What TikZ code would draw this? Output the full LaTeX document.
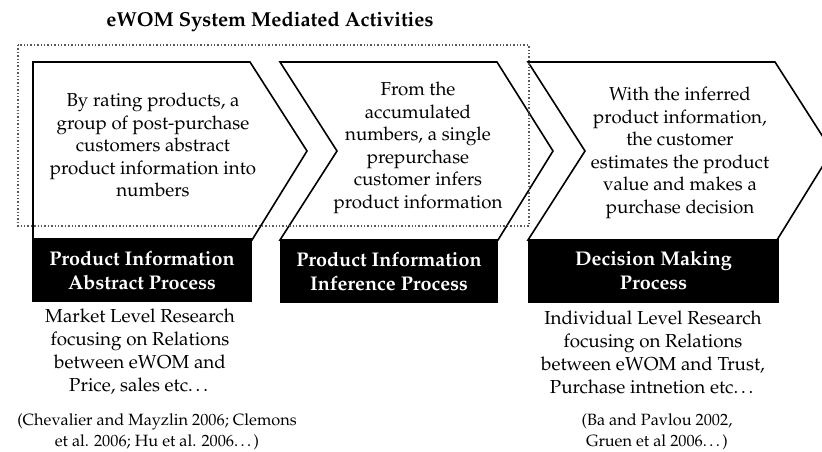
\documentclass[tikz,border=0pt]{standalone}
\usepackage[T1]{fontenc}
\usepackage{mathpazo}
\usetikzlibrary{positioning}

\begin{document}
\begin{tikzpicture}[x=1pt, y=-1pt,
		chev/.style={draw, line width=1.6pt, line join=miter, fill=white},
		steptext/.style={align=center, inner sep=0pt, font=\fontsize{18.7}{22.5}\selectfont},
		headbox/.style={fill=black, text=white, align=center, inner sep=0pt, minimum height=64pt, font=\fontsize{19.8}{24}\selectfont\bfseries},
		notetext/.style={align=center, inner sep=0pt, font=\fontsize{18.8}{23}\selectfont},
		citetext/.style={align=center, inner sep=0pt, font=\fontsize{16.3}{21}\selectfont}]
			\clip (0,0) rectangle (822,452);
			% Title
			\node[font=\fontsize{20.2}{22}\selectfont\bfseries] (title) at (270,22) {eWOM System Mediated Activities};
			% Chevrons
			\draw[chev] (33,240) -- (33,62) -- (250,62) -- (307,151) -- (252,240) -- cycle;
			\draw[chev] (280,240) -- (337,151) -- (280,62) -- (497,62) -- (553,151) -- (498,240) -- cycle;
			\draw[chev] (528,240) -- (585,151) -- (528,62) -- (775,62) -- (832,151) -- (777,240) -- cycle;
			\draw[line width=2.6pt] (528,62) -- (775,62);
			\node[steptext] (step1) at (153,145) {By rating products, a\\group of post-purchase\\customers abstract\\product information into\\numbers};
			\node[steptext] (step2) at (418,148) {From the\\accumulated\\numbers, a single\\prepurchase\\customer infers\\product information};
			\node[steptext] (step3) at (680,153) {With the inferred\\product information,\\the customer\\estimates the product\\value and makes a\\purchase decision};
			% System mediated part
			\draw[dotted, gray!70!black, line width=1.4pt] (18,45) rectangle (529,226);
			% Process boxes
			\node[headbox, minimum width=220pt] (proc1) at (142,270) {Product Information\\Abstract Process};
			\node[headbox, minimum width=218pt] (proc2) at (389,271) {Product Information\\Inference Process};
			\node[headbox, minimum width=251pt] (proc3) at (653.5,270.5) {Decision Making\\Process};
			% Research notes
			\node[notetext] (note1) at (140,352) {Market Level Research\\focusing on Relations\\between eWOM and\\Price, sales etc\ldots};
			\node[notetext] (note3) at (653,352) {Individual Level Research\\focusing on Relations\\between eWOM and Trust,\\Purchase intnetion etc\ldots};
			\node[citetext] (cite1) at (157,432) {(Chevalier and Mayzlin 2006; Clemons\\et al. 2006; Hu et al. 2006\ldots)};
			\node[citetext] (cite3) at (657,432) {(Ba and Pavlou 2002,\\Gruen et al 2006\ldots)};
		\end{tikzpicture}
\end{document}
